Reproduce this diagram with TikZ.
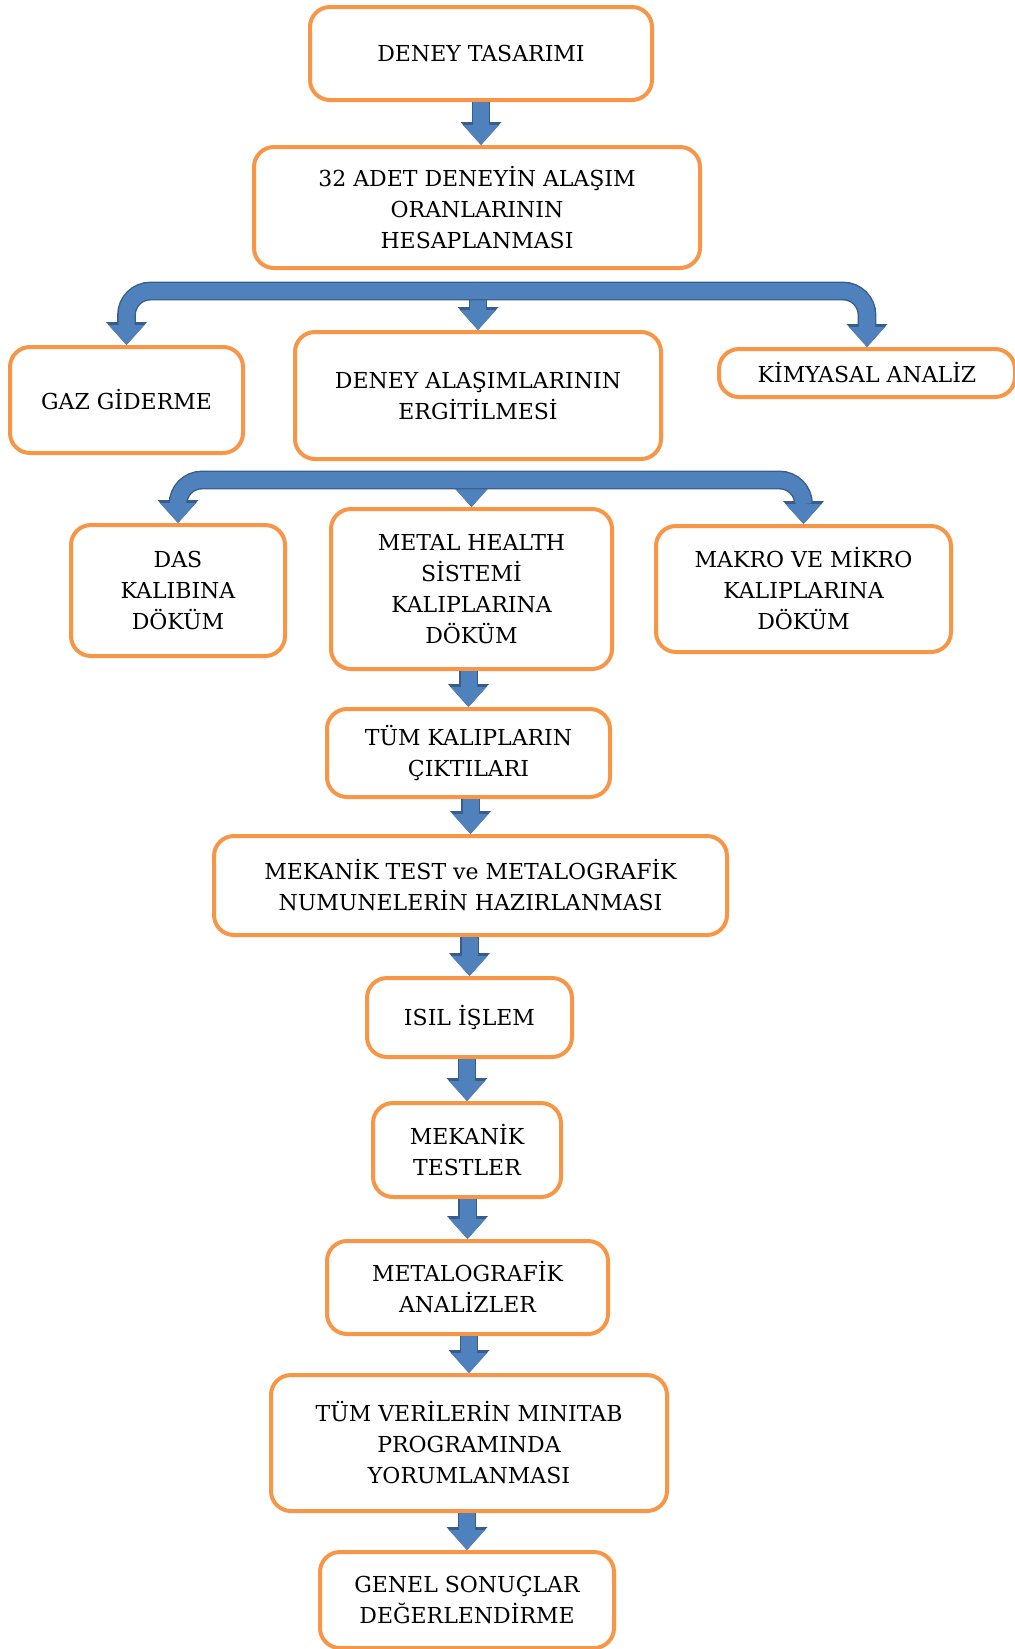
\documentclass[tikz,border=0pt]{standalone}
\usepackage{fontspec}
\setmainfont{DejaVu Serif}
\usepackage{xcolor}
\usetikzlibrary{arrows.meta,calc}
\definecolor{boxorange}{HTML}{F79646}
\definecolor{flowblue}{HTML}{4F81BD}
\definecolor{flowdark}{HTML}{385D8A}
\tikzset{
  stage/.style={draw=boxorange, line width=2pt, rounded corners=10pt, fill=white,
    align=center, inner sep=0pt, font=\fontsize{11pt}{15.5pt}\selectfont},
  flow/.style={line width=8pt, draw=flowblue,
    -{Triangle[width=18pt,length=10pt,line width=0pt]},
    preaction={draw=flowdark, line width=9.4pt,
      -{Triangle[width=20.5pt,length=11.5pt,line width=0pt]}}},
}

\begin{document}
\begin{tikzpicture}[x=0.5pt, y=-0.5pt]
  \useasboundingbox (0,0) rectangle (1015,1649);

  \node[stage, minimum width=171pt, minimum height=46.5pt] (tasarim) at (481,53.5) {DENEY TASARIMI};
  \node[stage, minimum width=223pt, minimum height=60.5pt] (oran) at (477,207.5)
    {32 ADET DENEYİN ALAŞIM\\ORANLARININ\\HESAPLANMASI};
  \node[stage, minimum width=116.5pt, minimum height=53pt] (gaz) at (126.5,400) {GAZ GİDERME};
  \node[stage, minimum width=183pt, minimum height=63.5pt] (ergit) at (478,395.5)
    {DENEY ALAŞIMLARININ\\ERGİTİLMESİ};
  \node[stage, minimum width=148pt, minimum height=24pt] (kimya) at (867,373) {KİMYASAL ANALİZ};
  \node[stage, minimum width=107pt, minimum height=65.5pt] (das) at (178,590.5)
    {DAS\\KALIBINA\\DÖKÜM};
  \node[stage, minimum width=140.5pt, minimum height=80pt] (metal) at (471.5,589)
    {METAL HEALTH\\SİSTEMİ\\KALIPLARINA\\DÖKÜM};
  \node[stage, minimum width=147.5pt, minimum height=63pt] (makro) at (803.5,589)
    {MAKRO VE MİKRO\\KALIPLARINA\\DÖKÜM};
  \node[stage, minimum width=141.5pt, minimum height=44pt] (cikti) at (468.5,753)
    {TÜM KALIPLARIN\\ÇIKTILARI};
  \node[stage, minimum width=256.5pt, minimum height=49.5pt] (numune) at (470.5,885.5)
    {MEKANİK TEST ve METALOGRAFİK\\NUMUNELERİN HAZIRLANMASI};
  \node[stage, minimum width=102.5pt, minimum height=39.5pt] (isil) at (469.5,1017.5) {ISIL İŞLEM};
  \node[stage, minimum width=94pt, minimum height=47pt] (mektest) at (467,1150)
    {MEKANİK\\TESTLER};
  \node[stage, minimum width=140.5pt, minimum height=46.5pt] (metalog) at (467.5,1287.5)
    {METALOGRAFİK\\ANALİZLER};
  \node[stage, minimum width=198pt, minimum height=68pt] (minitab) at (469,1443)
    {TÜM VERİLERİN MINITAB\\PROGRAMINDA\\YORUMLANMASI};
  \node[stage, minimum width=147pt, minimum height=48pt] (genel) at (467,1600)
    {GENEL SONUÇLAR\\DEĞERLENDİRME};

  \coordinate (br1) at ($(oran.south)+(0,21)$);
  \coordinate (br2) at ($(ergit.south)+(0,19)$);

  \draw[flow] (ergit.north |- br1) -- (ergit.north);
  \draw[flow, rounded corners=12pt] (br1) -| (gaz.north);
  \draw[flow, rounded corners=12pt] (br1) -| (kimya.north);

  \draw[flow] (metal.north |- br2) -- (metal.north);
  \draw[flow, rounded corners=12pt] (br2) -| (das.north);
  \draw[flow, rounded corners=12pt] (br2) -| (makro.north);

  \draw[flow] (tasarim.south) -- (tasarim.south |- oran.north);
  \foreach \a/\b in {metal/cikti, cikti/numune, numune/isil, isil/mektest,
                     mektest/metalog, metalog/minitab, minitab/genel}
    \draw[flow] (\b.north |- \a.south) -- (\b.north);
\end{tikzpicture}
\end{document}
